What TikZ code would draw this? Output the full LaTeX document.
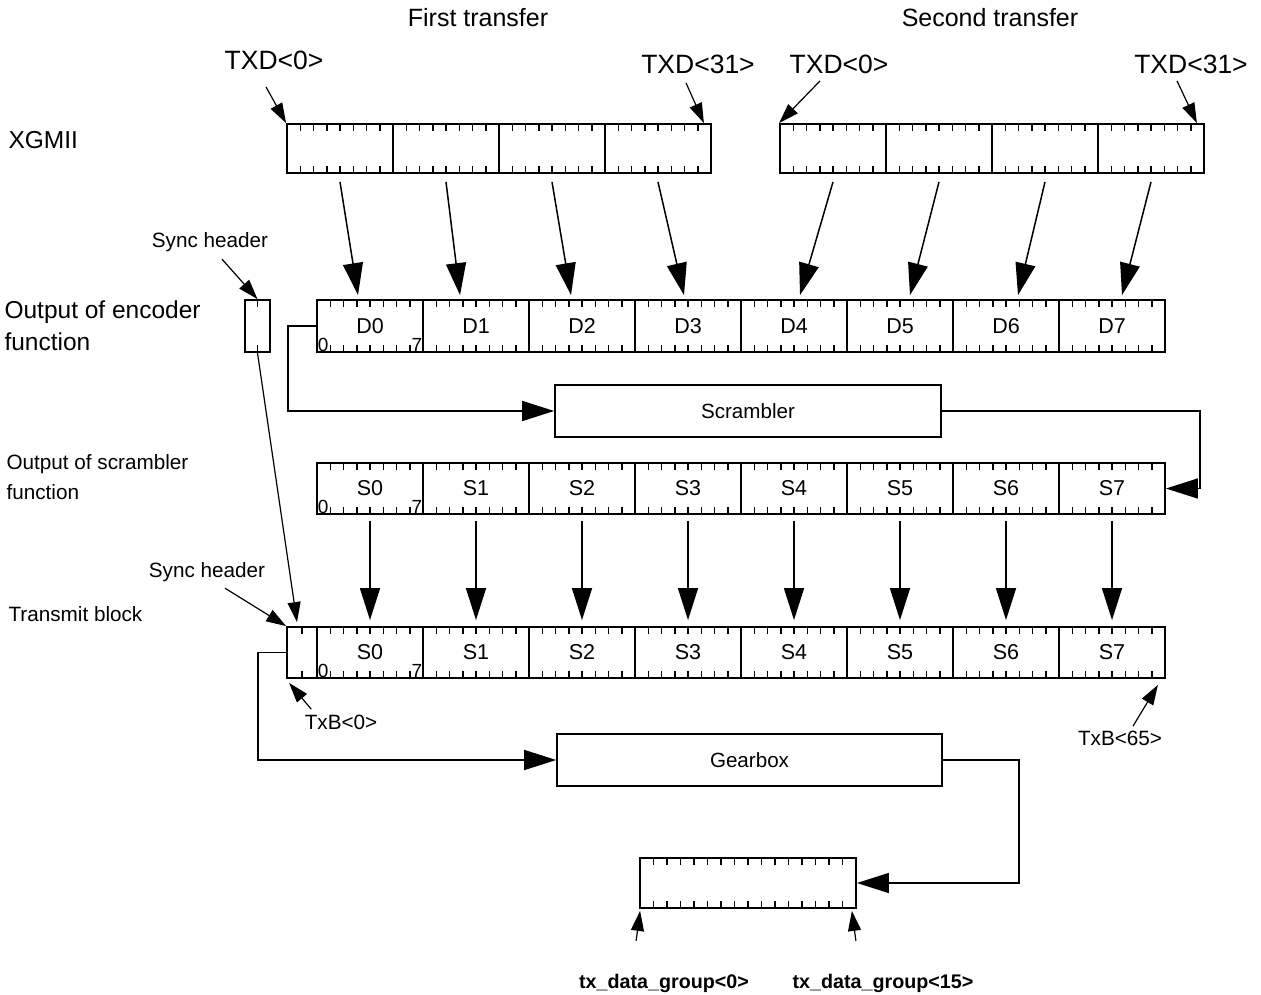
\documentclass[tikz,border=0pt]{standalone}
\usepackage{fontspec}
\setmainfont{Liberation Sans}
\usetikzlibrary{arrows.meta, calc, positioning}

\tikzset{
  ticks/.style={path picture={
      \foreach \k in {1,...,#1}{
        \draw[line width=1.5] ($(path picture bounding box.north west)!\k/(#1+1)!(path picture bounding box.north east)$) -- ++(0,7);
        \draw[line width=1.5] ($(path picture bounding box.south west)!\k/(#1+1)!(path picture bounding box.south east)$) -- ++(0,-7);
      }}},
  byte/.style={draw, line width=1.8, minimum width=106, minimum height=52, inner sep=0, ticks=7,
    font=\fontsize{21.5}{24}\selectfont},
  box/.style={draw, line width=1.6, minimum width=386, minimum height=52, font=\fontsize{20.6}{24}\selectfont},
  bitno/.style={inner sep=1.5, font=\fontsize{19}{20}\selectfont},
  titletxt/.style={font=\fontsize{25}{28}\selectfont},
  txdtxt/.style={font=\fontsize{26.5}{30}\selectfont},
  bigtxt/.style={font=\fontsize{24.5}{32}\selectfont},
  midtxt/.style={font=\fontsize{20.7}{30}\selectfont},
  grptxt/.style={font=\fontsize{19.7}{22}\selectfont\bfseries},
  conn/.style={line width=1.5},
  bigarrow/.style={line width=1.5, -{Triangle[length=32pt,width=20pt]}},
  smallarrow/.style={line width=1.2, -{Triangle[length=20pt,width=13pt]}}
}

\begin{document}
\begin{tikzpicture}[x=1pt,y=-1pt]
  \useasboundingbox (0,0) rectangle (1261,995);

  % headings and row labels
  \node[titletxt] (first) at (478,18) {First transfer};
  \node[titletxt] (second) at (990,18) {Second transfer};
  \node[bigtxt, anchor=west] (xgmii) at (5,140) {XGMII};
  \node[bigtxt, anchor=west, align=left] (enc) at (1,326) {Output of encoder\\function};
  \node[midtxt, anchor=west, align=left] (scrl) at (3,477) {Output of scrambler\\function};
  \node[midtxt, anchor=west] (tblk) at (5,614) {Transmit block};

  % XGMII transfers
  \foreach \i/\x in {0/340,1/446,2/552,3/658}
    \node[byte, minimum height=49] (xa\i) at (\x,148.5) {};
  \foreach \i/\x in {0/833,1/939,2/1045,3/1151}
    \node[byte, minimum height=49] (xb\i) at (\x,148.5) {};

  \node[txdtxt] (txa0) at (274,60) {TXD<0>};
  \node[txdtxt] (txa31) at (698,64) {TXD<31>};
  \node[txdtxt] (txb0) at (839,64) {TXD<0>};
  \node[txdtxt] (txb31) at (1191,64) {TXD<31>};
  \draw[smallarrow] ($(txa0.south)+(-8,14)$) -- (xa0.north west);
  \draw[smallarrow] ($(txa31.south)+(-12,6)$) -- ($(xa3.north east)+(-8,0)$);
  \draw[smallarrow] ($(txb0.south)+(-19,4)$) -- (xb0.north west);
  \draw[smallarrow] ($(txb31.south)+(-14,4)$) -- ($(xb3.north east)+(-8,0)$);

  % encoder output
  \node[byte, minimum width=25, ticks=1] (sync) at (257.5,326) {};
  \foreach \i in {0,...,7}
    \node[byte] (d\i) at (370+106*\i,326) {D\i};
  \node[bitno, anchor=south west] (d0lo) at (d0.south west) {0};
  \node[bitno, anchor=south east] (d0hi) at (d0.south east) {7};
  \node[midtxt] (sh1) at (210,242) {Sync header};
  \draw[smallarrow] ($(sh1.south)+(12,4)$) -- (sync.north);

  \foreach \s/\t/\dx in {xa0/d0/-12, xa1/d1/-16, xa2/d2/-11, xa3/d3/-4,
                         xb0/d4/6, xb1/d5/10, xb2/d6/12, xb3/d7/10}
    \draw[bigarrow] ($(\s.south)+(0,8)$) -- ($(\t.north)+(\dx,-4)$);

  % scrambler
  \node[box] (scr) at (748,411) {Scrambler};
  \draw[bigarrow] (d0.west) -- ++(-28,0) |- (scr.west);
  \foreach \i in {0,...,7}
    \node[byte, minimum height=51] (s\i) at (370+106*\i,488.5) {S\i};
  \node[bitno, anchor=south west] (s0lo) at (s0.south west) {0};
  \node[bitno, anchor=south east] (s0hi) at (s0.south east) {7};
  \draw[bigarrow] (scr.east) -- ++(258,0) |- (s7.east);

  % transmit block
  \node[byte, minimum width=30, minimum height=51, ticks=1] (tsync) at (302,652.5) {};
  \foreach \i in {0,...,7}
    \node[byte, minimum height=51] (t\i) at (370+106*\i,652.5) {S\i};
  \node[bitno, anchor=south west] (t0lo) at (t0.south west) {0};
  \node[bitno, anchor=south east] (t0hi) at (t0.south east) {7};
  \foreach \i in {0,...,7}
    \draw[bigarrow] ($(s\i.south)+(0,6)$) -- ($(t\i.north)+(0,-6)$);
  \draw[smallarrow] (sync.south) -- ($(tsync.north)+(-5,-4)$);
  \node[midtxt] (sh2) at (207,572) {Sync header};
  \draw[smallarrow] ($(sh2.south)+(18,3)$) -- (tsync.north west);

  \node[midtxt] (txbl) at (341,722) {TxB<0>};
  \node[midtxt] (txbh) at (1120,738) {TxB<65>};
  \draw[smallarrow] ($(txbl.north west)+(10,-2)$) -- ($(tsync.south west)+(3,4)$);
  \draw[smallarrow] ($(txbh.north)+(13,-1)$) -- ($(t7.south east)+(-8,6)$);

  % gearbox
  \node[box, minimum width=385] (gear) at (749.5,760) {Gearbox};
  \draw[bigarrow] (tsync.west) -- ++(-28,0) |- (gear.west);
  \node[byte, minimum width=216, minimum height=50, ticks=15] (grp) at (748,883) {};
  \draw[bigarrow] (gear.east) -- ++(76,0) |- (grp.east);

  \node[grptxt] (g0) at (664,983) {tx\_data\_group<0>};
  \node[grptxt] (g15) at (883,983) {tx\_data\_group<15>};
  \draw[smallarrow] ($(grp.south west)+(-3,32)$) -- ($(grp.south west)+(1,2)$);
  \draw[smallarrow] ($(grp.south east)+(-1,32)$) -- ($(grp.south east)+(-5,2)$);
\end{tikzpicture}
\end{document}
